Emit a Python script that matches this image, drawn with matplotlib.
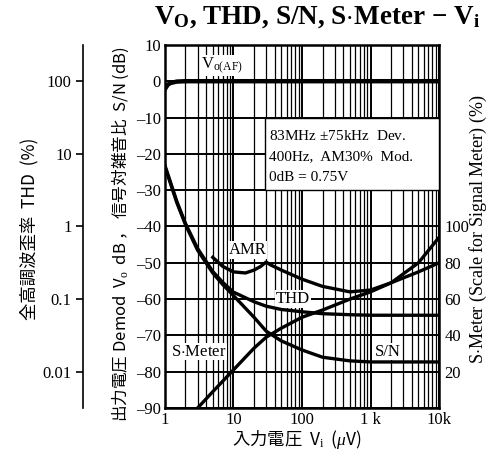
import numpy as np
import matplotlib.pyplot as plt
from matplotlib.patches import Rectangle
from matplotlib.ticker import FixedLocator, NullFormatter, NullLocator

# input voltage (uV)
vi = [1, 1.5, 2, 3, 5, 7, 10, 20, 30, 50, 100, 200, 500, 1000, 2000, 5000, 10000]

# demodulated output Vo(AF) (dB)
vo_x = [1, 1.1, 1.2, 1.5, 2, 10, 100, 1000, 10000]
vo_db = [-2.2, -1.0, -0.5, -0.1, 0, 0, 0, 0, 0]

# THD (%)
thd = [7.0, 2.2, 1.1, 0.5, 0.24, 0.17, 0.125, 0.092, 0.080, 0.072, 0.067,
       0.063, 0.061, 0.060, 0.060, 0.060, 0.060]

# S/N (dB)
sn_db = [-23.5, -33.5, -39.5, -46.5, -52.8, -56, -59, -65, -68.8, -71.5,
         -74, -76, -77, -77.3, -77.3, -77.3, -77.3]

# AMR (dB)
amr_x = [5, 7, 10, 15, 20, 25, 30, 35, 50, 100, 200, 500, 1000, 2000, 5000, 10000]
amr_db = [-48.5, -51, -52.5, -52.8, -52, -51, -49.8, -50.6, -52, -54.5,
          -56.5, -58, -57.5, -55.5, -50, -43]

# S-Meter (%)
sm_x = [3, 5, 10, 20, 30, 50, 100, 200, 500, 1000, 2000, 5000, 10000]
sm = [0, 9, 21, 33, 39, 44, 50, 54, 60, 64, 69, 75, 80]

db_ticks = [10, 0, -10, -20, -30, -40, -50, -60, -70, -80, -90]
thd_ticks = [100, 10, 1, 0.1, 0.01]
thd_labels = ['100', '10', '1', '0.1', '0.01']
sm_ticks = [20, 40, 60, 80, 100]
x_ticks = [1, 10, 100, 1000, 10000]
x_labels = ['1', '10', '100', '1 k', '10k']

serif = 'Liberation Serif'
cjk = ['Noto Sans CJK JP', 'DejaVu Sans']
plt.rcParams['font.family'] = serif
plt.rcParams['mathtext.fontset'] = 'custom'
plt.rcParams['mathtext.rm'] = 'Liberation Serif'
plt.rcParams['mathtext.it'] = 'Liberation Serif:italic'
plt.rcParams['mathtext.bf'] = 'Liberation Serif:bold'

fig = plt.figure(figsize=(4.95, 4.58), dpi=100)
ax = fig.add_axes([0.333, 0.109, 0.554, 0.793])

ax.set_xscale('log')
ax.set_xlim(1, 10000)
ax.set_ylim(-90, 10)

ax.set_xticks(x_ticks)
ax.set_xticklabels(x_labels)
ax.xaxis.set_minor_locator(FixedLocator([m * 10**d for d in range(4) for m in range(2, 10)]))
ax.xaxis.set_minor_formatter(NullFormatter())
ax.set_yticks(db_ticks)
ax.set_yticklabels([str(t).replace('-', '\u2013') for t in db_ticks])
ax.tick_params(axis='both', which='both', length=0, labelsize=12, pad=3)
ax.grid(True, which='major', color='black', lw=1.4)
ax.grid(True, which='minor', axis='x', color='black', lw=0.9)
for s in ax.spines.values():
    s.set_linewidth(1.8)

# condition box
ax.add_patch(Rectangle((29, -30), 10000 - 29, 20, facecolor='white',
                       edgecolor='black', lw=1.0, zorder=3))
cond = ['83MHz $\\pm$75kHz  Dev.', '400Hz,  AM30%  Mod.', '0dB = 0.75V']
for i, s in enumerate(cond):
    ax.text(33, -15.2 - 5.6 * i, s, fontsize=11, va='center', ha='left', zorder=4)

lw = 2.4
ax.plot(vo_x, vo_db, color='black', lw=3.2, zorder=5)
ax.plot(vi, sn_db, color='black', lw=lw, zorder=5)
ax.plot(amr_x, amr_db, color='black', lw=lw, zorder=5)

# THD axis on the far left
ax_thd = ax.twinx()
ax_thd.set_yscale('log')
ax_thd.set_ylim(100 * 10**(-4.5), 100 * 10**0.5)
ax_thd.yaxis.set_ticks_position('left')
ax_thd.spines['left'].set_position(('axes', -0.299))
ax_thd.spines['left'].set_linewidth(1.2)
for k in ['right', 'top', 'bottom']:
    ax_thd.spines[k].set_visible(False)
ax_thd.set_yticks(thd_ticks)
ax_thd.set_yticklabels(thd_labels)
ax_thd.yaxis.set_minor_locator(NullLocator())
ax_thd.tick_params(axis='y', length=5, width=1.2, labelsize=12, pad=3)
ax_thd.plot(vi, thd, color='black', lw=lw, zorder=5)

# S-Meter axis on the right
ax_sm = ax.twinx()
ax_sm.set_ylim(0, 200)
ax_sm.set_yticks(sm_ticks)
ax_sm.set_yticklabels([str(t) for t in sm_ticks])
ax_sm.tick_params(axis='y', length=0, labelsize=12, pad=4)
for s in ax_sm.spines.values():
    s.set_visible(False)
ax_sm.plot(sm_x, sm, color='black', lw=lw, zorder=5)

# curve labels
bb = dict(facecolor='white', edgecolor='none', pad=0.5)
ax.text(3.4, 4.3, 'V$_{\\mathrm{o(AF)}}$', fontsize=12, va='center', ha='left', bbox=bb, zorder=6)
ax.text(8.6, -46.5, 'AMR', fontsize=12, va='center', ha='left', bbox=bb, zorder=6)
ax.text(42, -60, 'THD', fontsize=12, va='center', ha='left', bbox=bb, zorder=6)
ax.text(1.25, -74.5, 'S$\\cdot$Meter', fontsize=12, va='center', ha='left', bbox=bb, zorder=6)
ax.text(1150, -74.5, 'S/N', fontsize=12, va='center', ha='left', bbox=bb, zorder=6)

fig.text(0.64, 0.962, 'V$_\\mathbf{O}$, THD, S/N, S$\\cdot$Meter $\\mathbf{-}$ V$_\\mathbf{i}$',
         fontsize=19.5, fontweight='bold', ha='center', va='center')

fig.text(0.06, 0.5, '全高調波歪率  THD  (%)', rotation=90, fontsize=12.5,
         ha='center', va='center', family=cjk)
fig.text(0.243, 0.49, '出力電圧 Demod  V$_\\mathrm{o}$  dB ， 信号対雑音比  S/N (dB)',
         rotation=90, fontsize=12, ha='center', va='center', family=cjk)
fig.text(0.966, 0.5, 'S$\\cdot$Meter (Scale for Signal Meter) (%)', rotation=90,
         fontsize=13, ha='center', va='center')
fig.text(0.6, 0.04, '入力電圧  V$_\\mathrm{i}$  ($\\mu$V)', fontsize=12.5,
         ha='center', va='center', family=cjk)

fig.savefig('out.png', dpi=100, facecolor='white')
